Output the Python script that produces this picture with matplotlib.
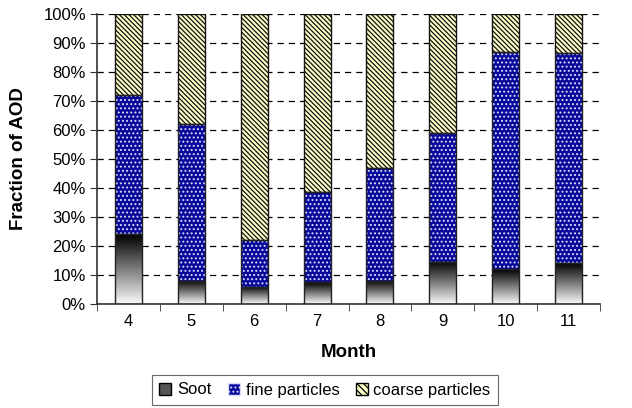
import numpy as np
import matplotlib
matplotlib.use("Agg")
import matplotlib.pyplot as plt
import matplotlib.patches as mpatches
from matplotlib.ticker import PercentFormatter, FixedLocator

# ── Data ─────────────────────────────────────────────────
months = ["4", "5", "6", "7", "8", "9", "10", "11"]
soot = [24, 8, 6, 7.5, 8, 14.5, 12, 14]
fine = [48, 54, 16, 31, 39, 44.5, 75, 72.5]
coarse = [28, 38, 78, 61.5, 53, 41, 13, 13.5]

FINE_COLOR = "#08089a"
COARSE_COLOR = "#ffffc8"
DOT_COLOR = "#d8dcff"

plt.rcParams["font.family"] = ["Liberation Sans", "DejaVu Sans"]
plt.rcParams["hatch.linewidth"] = 0.9

fig = plt.figure(figsize=(6.32, 4.08), dpi=100)
ax = fig.add_axes([97 / 632, 104 / 408, 503 / 632, 290 / 408])

x = np.arange(len(months))
width = 0.43
soot = np.array(soot)
fine = np.array(fine)
coarse = np.array(coarse)

# soot: gradient black (top) -> white (bottom)
grad = np.linspace(0, 1, 256).reshape(-1, 1)
soot_bars = ax.bar(x, soot, width, color="none", edgecolor="none")
for b in soot_bars:
    x0, y0 = b.get_x(), b.get_y()
    w, h = b.get_width(), b.get_height()
    im = ax.imshow(grad, cmap="gray", aspect="auto", vmin=0, vmax=1.02,
                   extent=[x0, x0 + w, y0, y0 + h], zorder=2)
    im.set_clip_path(b)
ax.bar(x, soot, width, fill=False, edgecolor="#222222", linewidth=1.0, zorder=3)

# fine particles: blue with white dots
ax.bar(x, fine, width, bottom=soot, color=FINE_COLOR, edgecolor="none", zorder=2)
ax.bar(x, fine, width, bottom=soot, fill=False, edgecolor=DOT_COLOR,
       hatch="....", linewidth=0, zorder=2)
ax.bar(x, fine, width, bottom=soot, fill=False, edgecolor="#222222",
       linewidth=1.0, zorder=3)

# coarse particles: light yellow with black diagonal lines
ax.bar(x, coarse, width, bottom=soot + fine, color=COARSE_COLOR,
       edgecolor="#111111", hatch="\\" * 7, linewidth=1.0, zorder=2)

ax.set_xlim(-0.5, len(months) - 0.5)
ax.set_ylim(0, 100)
ax.set_xticks(x)
ax.set_xticklabels(months, fontsize=12)
ax.xaxis.set_minor_locator(FixedLocator(np.arange(-0.5, len(months), 1.0)))
ax.tick_params(axis="x", which="major", length=0, pad=7)
ax.tick_params(axis="x", which="minor", length=5, direction="out", color="#333333")
ax.set_yticks(np.arange(0, 101, 10))
ax.yaxis.set_major_formatter(PercentFormatter(decimals=0))
ax.tick_params(axis="y", labelsize=12, length=5, direction="out", color="#333333", pad=3)

ax.yaxis.grid(True, linestyle=(0, (5, 4)), color="black", linewidth=0.9)
ax.set_axisbelow(True)
for s in ["top", "right"]:
    ax.spines[s].set_visible(False)
ax.spines["left"].set_color("#333333")
ax.spines["bottom"].set_color("#333333")
ax.spines["left"].set_linewidth(1.2)
ax.spines["bottom"].set_linewidth(1.2)

ax.set_xlabel("Month", fontsize=13.5, fontweight="bold", labelpad=11)
ax.set_ylabel("Fraction of AOD", fontsize=13.5, fontweight="bold", labelpad=12)

handles = [
    mpatches.Patch(facecolor="#555555", edgecolor="black", label="Soot"),
    mpatches.Patch(facecolor=FINE_COLOR, edgecolor=DOT_COLOR, hatch="....", label="fine particles"),
    mpatches.Patch(facecolor=COARSE_COLOR, edgecolor="black", hatch="\\" * 5, label="coarse particles"),
]
leg = fig.legend(handles=handles, loc="center", bbox_to_anchor=(325 / 632, 1 - 390 / 408),
                 ncol=3, fontsize=12, frameon=True, fancybox=False, edgecolor="#444444",
                 handlelength=0.7, handleheight=0.7, handletextpad=0.35, columnspacing=1.0,
                 borderpad=0.45)
leg.get_frame().set_linewidth(0.8)

fig.savefig("out.png", dpi=100)
